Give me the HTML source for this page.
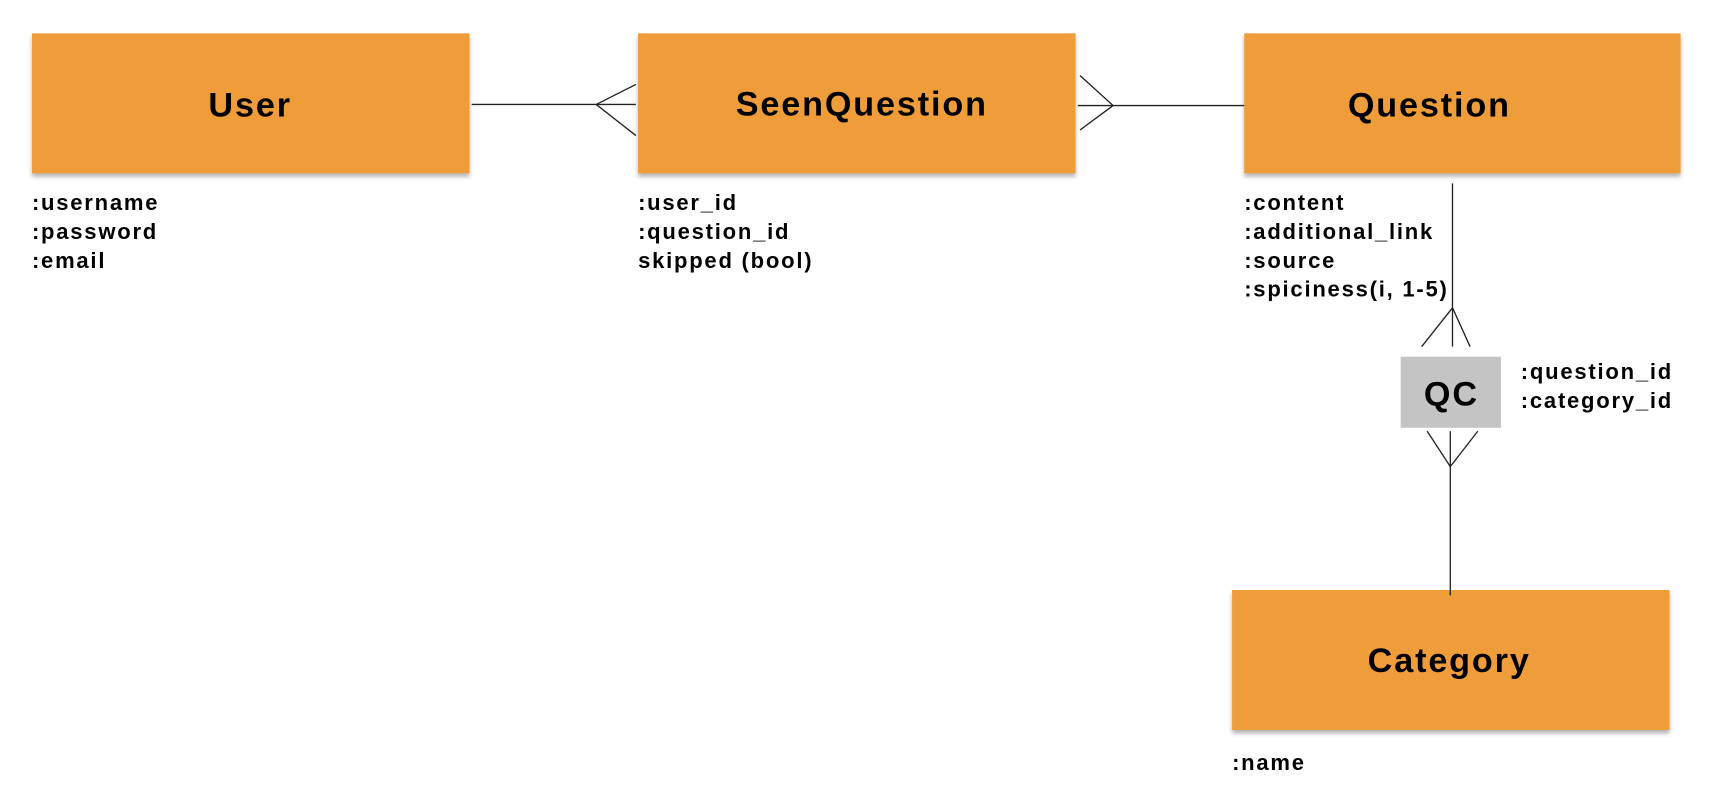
<!DOCTYPE html>
<html><head><meta charset="utf-8"><style>
html,body{margin:0;padding:0;background:#fff;width:1728px;height:800px;overflow:hidden}
svg{display:block}
text{font-family:"Liberation Sans",sans-serif;font-weight:bold;fill:#000}
.t{font-size:31px;text-anchor:middle;letter-spacing:1.7px}
.a{font-size:20px;letter-spacing:1.6px}
</style></head><body>
<svg width="1728" height="800" viewBox="0 0 1568 720" preserveAspectRatio="none">
<defs><filter id="s" x="-5%" y="-5%" width="110%" height="120%"><feDropShadow dx="0" dy="3" stdDeviation="2" flood-color="#000" flood-opacity="0.3"/></filter></defs>
<g fill="#ef9c3a" filter="url(#s)">
<rect x="29" y="30" width="397" height="126"/>
<rect x="579" y="30" width="397" height="126"/>
<rect x="1129" y="30" width="396" height="126"/>
<rect x="1118" y="531" width="397" height="126"/>
</g>
<rect x="1271" y="321" width="91" height="64" fill="#c4c4c4"/>
<g stroke="#222" stroke-width="1.2" fill="none">
<line x1="428" y1="94" x2="577" y2="94"/>
<polyline points="577,76 541,94 577,122"/>
<line x1="978" y1="95" x2="1129" y2="95"/>
<polyline points="980,68 1010,95 980,117"/>
<line x1="1318" y1="165" x2="1318" y2="312"/>
<polyline points="1290,312 1318,277 1334,312"/>
<line x1="1316" y1="388" x2="1316" y2="536"/>
<polyline points="1295,388 1316,420 1341,388"/>
</g>
<text class="t" x="227" y="105">User</text>
<text class="t" x="782" y="104">SeenQuestion</text>
<text class="t" x="1297" y="105">Question</text>
<text class="t" x="1315" y="605">Category</text>
<text class="t" x="1317" y="365">QC</text>
<text class="a" x="29" y="189">:username</text>
<text class="a" x="29" y="215">:password</text>
<text class="a" x="29" y="241">:email</text>
<text class="a" x="579" y="189">:user_id</text>
<text class="a" x="579" y="215">:question_id</text>
<text class="a" x="579" y="241">skipped (bool)</text>
<text class="a" x="1129" y="189">:content</text>
<text class="a" x="1129" y="215">:additional_link</text>
<text class="a" x="1129" y="241">:source</text>
<text class="a" x="1129" y="267">:spiciness(i, 1-5)</text>
<text class="a" x="1380" y="341">:question_id</text>
<text class="a" x="1380" y="367">:category_id</text>
<text class="a" x="1118" y="693">:name</text>
</svg>
</body></html>
